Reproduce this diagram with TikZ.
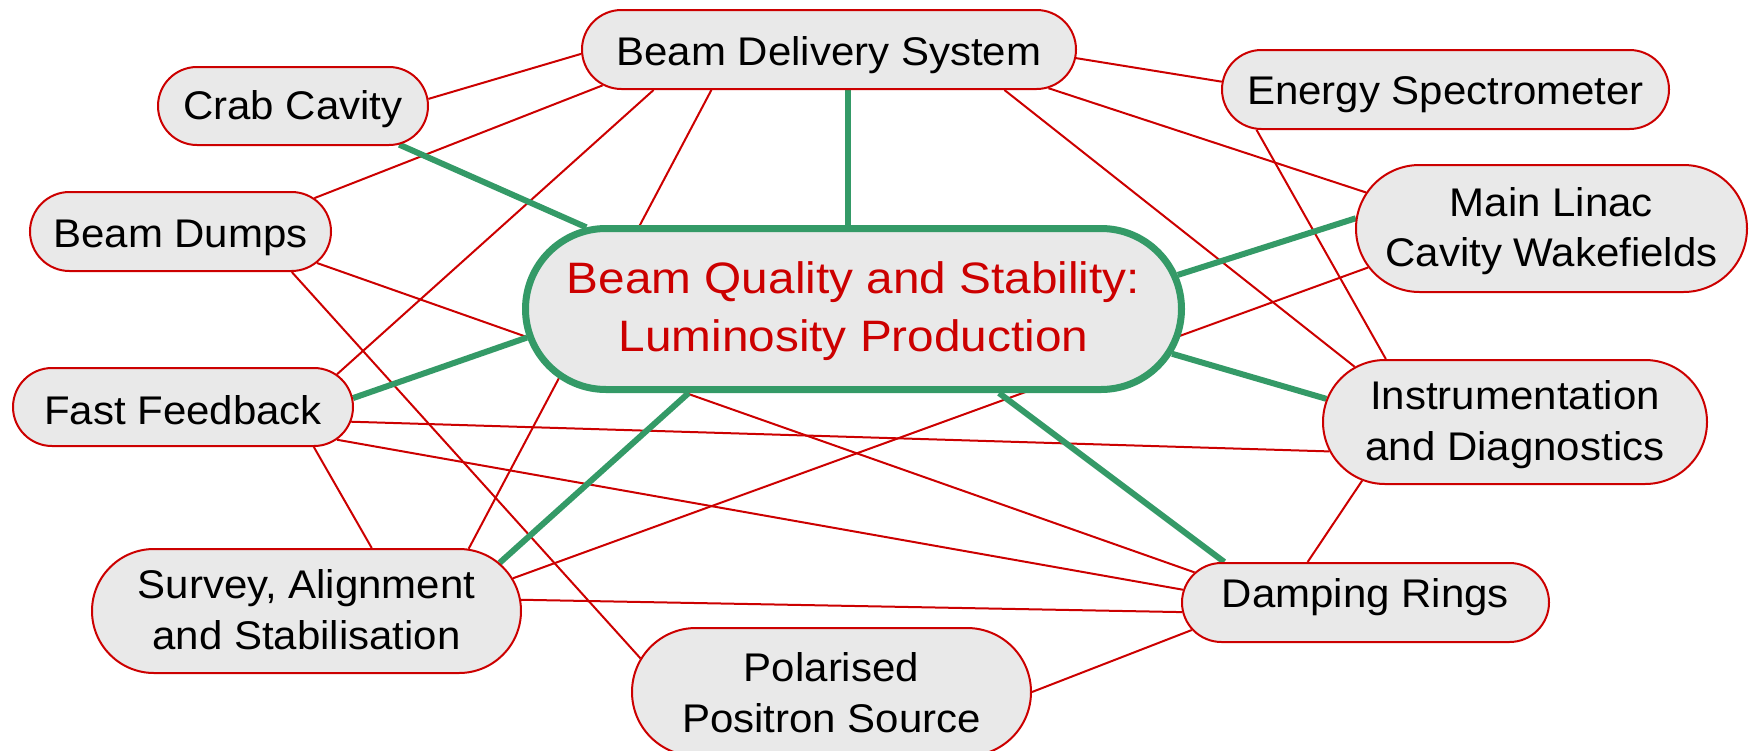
\documentclass[tikz,border=0pt]{standalone}
\usepackage{fontspec}
\setmainfont{Liberation Sans}
\newfontfamily\topicfont[FakeStretch=1.05]{Liberation Sans}
\newfontfamily\hubfont[FakeStretch=1.085]{Liberation Sans}
\usetikzlibrary{shapes.misc,backgrounds}
\definecolor{linkred}{RGB}{204,0,0}
\definecolor{linkgreen}{RGB}{52,154,103}
\definecolor{boxfill}{RGB}{233,233,233}
\begin{document}
\begin{tikzpicture}[x=1pt,y=-1pt,
  topic/.style={rounded rectangle, draw=linkred, line width=2pt, fill=boxfill,
    inner sep=0pt},
  hub/.style={topic, draw=linkgreen, line width=7pt},
  lbl/.style={inner sep=0pt, align=center, text=black,
    font=\topicfont\fontsize{40}{50.4}\selectfont},
  hublbl/.style={inner sep=0pt, align=center, text=linkred,
    font=\hubfont\fontsize{44}{58}\selectfont},
  link/.style={draw=linkred, line width=2pt},
  core/.style={draw=linkgreen, line width=6pt}]
\useasboundingbox (0,0) rectangle (1749,750);

% topic boxes
\node[topic, minimum width=270pt, minimum height=78pt,
  label={[lbl,yshift=-3.5pt]center:Crab Cavity}] (crab) at (293,106) {};
\node[topic, minimum width=301pt, minimum height=79pt,
  label={[lbl,yshift=-6pt]center:Beam Dumps}] (dumps) at (180.5,231.5) {};
\node[topic, minimum width=494pt, minimum height=79pt,
  label={[lbl,yshift=-6pt]center:Beam Delivery System}] (bds) at (829,49.5) {};
\node[topic, minimum width=447pt, minimum height=79pt,
  label={[lbl,yshift=-5pt]center:Energy Spectrometer}] (espec) at (1445.5,89.5) {};
\node[topic, minimum width=391pt, minimum height=127pt,
  label={[lbl,yshift=-2.5pt]center:Main Linac\\Cavity Wakefields}] (linac) at (1551.5,228.5) {};
\node[topic, minimum width=340pt, minimum height=78pt,
  label={[lbl,yshift=-3.5pt]center:Fast Feedback}] (ff) at (183,407) {};
\node[topic, minimum width=429pt, minimum height=124pt,
  label={[lbl,yshift=1.5pt]center:Survey, Alignment\\and Stabilisation}] (survey) at (306.5,611) {};
\node[topic, minimum width=399pt, minimum height=128pt,
  label={[lbl,yshift=-0.5pt]center:Polarised\\Positron Source}] (polar) at (831.5,692) {};
\node[topic, minimum width=384pt, minimum height=124pt,
  label={[lbl,yshift=-2.7pt]center:Instrumentation\\and Diagnostics}] (instr) at (1515,422) {};
\node[topic, minimum width=367pt, minimum height=79pt,
  label={[lbl,yshift=5pt]center:Damping Rings}] (damp) at (1365.5,602.5) {};
\node[hub, minimum width=656pt, minimum height=161pt,
  label={[hublbl,yshift=-2.6pt]center:Beam Quality and Stability:\\Luminosity Production}] (hub) at (853.5,309) {};

\begin{scope}[on background layer]
  % cross links between topics
  \draw[link] (bds.181.5)   -- (crab.3.8);
  \draw[link] (bds.189.4)   -- (dumps.14.1);
  \draw[link] (bds.193.6)   -- (ff.12.6);
  \draw[link] (bds.199.3)   -- (survey.21.1);
  \draw[link] (bds.358.7)   -- (espec.178.1);
  \draw[link] (bds.350.6)   -- (linac.169.3);
  \draw[link] (bds.347.5)   -- (instr.161.8);
  \draw[link] (espec.192.9) -- (instr.154.7);
  \draw[link] (linac.192.4) -- (survey.9);
  \draw[link] (dumps.347.3) -- (damp.170.7);
  \draw[link] (dumps.340.4) -- (polar.170.9);
  \draw[link] (ff.355)      -- (instr.189.5);
  \draw[link] (ff.348.9)    -- (damp.176.7);
  \draw[link] (ff.343.3)    -- (survey.44.3);
  \draw[link] (survey.3.5)  -- (damp.183.3);
  \draw[link] (polar.0.3)   -- (damp.189.3);
  \draw[link] (instr.201.7) -- (damp.145.3);
  % links into the central topic
  \draw[core] (crab.340.4)   -- (hub.163.5);
  \draw[core] (hub.94)       -- (hub.94 |- bds.south);
  \draw[core] (ff.3)         -- (hub.185.6);
  \draw[core] (survey.14)    -- (hub.207.3);
  \draw[core] (linac.177.5)  -- (hub.6.9);
  \draw[core] (instr.173.4)  -- (hub.352.3);
  \draw[core] (damp.164.1)   -- (hub.330.4);
\end{scope}
\end{tikzpicture}
\end{document}
